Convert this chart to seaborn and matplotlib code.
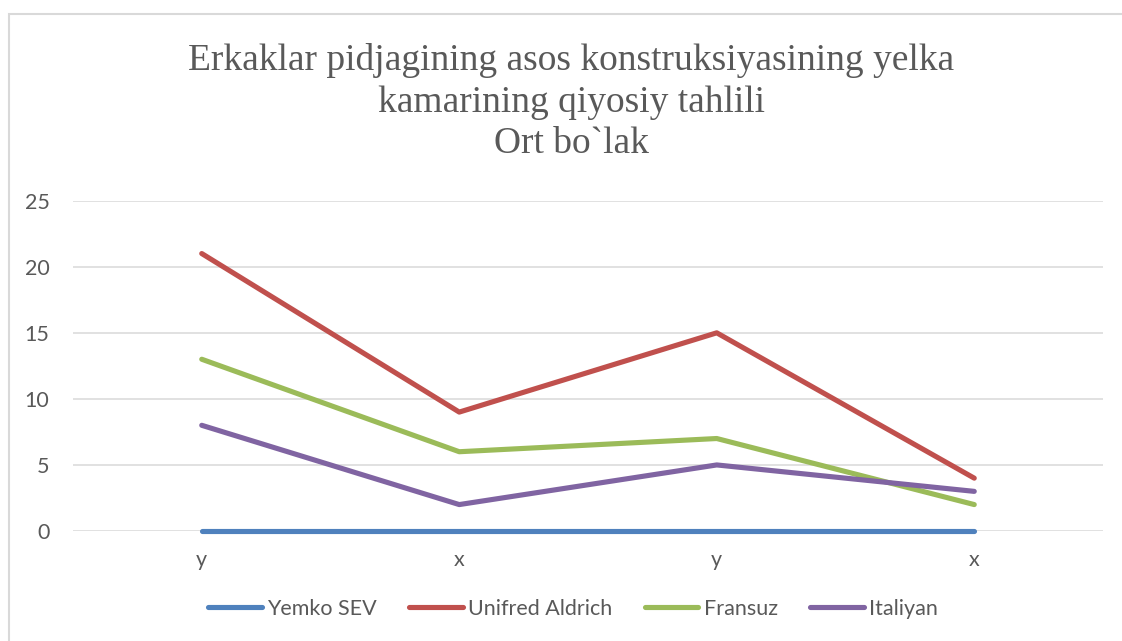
import pandas as pd
import seaborn as sns
from matplotlib import pyplot as plt
from matplotlib.patches import Rectangle

# chart data
categories = ["y", "x", "y", "x"]
series_names = ["Yemko SEV", "Unifred Aldrich", "Fransuz", "Italiyan"]
yemko_sev = [0, 0, 0, 0]
unifred_aldrich = [21, 9, 15, 4]
fransuz = [13, 6, 7, 2]
italiyan = [8, 2, 5, 3]
y_ticks = [0, 5, 10, 15, 20, 25]

colors = {"Yemko SEV": "#4F81BD", "Unifred Aldrich": "#C0504D",
          "Fransuz": "#9BBB59", "Italiyan": "#8064A2"}

# long form table for seaborn, x is the category position (labels repeat)
rows = []
for name, vals in zip(series_names, [yemko_sev, unifred_aldrich, fransuz, italiyan]):
    for i, v in enumerate(vals):
        rows.append({"pos": i, "value": v, "series": name})
df = pd.DataFrame(rows)

sns.set_style("white")
plt.rcParams['font.family'] = ['Lato', 'DejaVu Sans']
text_color = "#595959"
grid_color = "#D9D9D9"

fig = plt.figure(figsize=(11.22, 6.41), dpi=100)
ax = fig.add_axes([73 / 1122, 1 - 531 / 641, 1030 / 1122, 330.3 / 641])

sns.lineplot(data=df, x="pos", y="value", hue="series", hue_order=series_names,
             palette=colors, linewidth=3.7, solid_capstyle="round", ax=ax, legend=False)
# keep the zero line fully visible
for ln in ax.lines:
    ln.set_clip_on(False)

ax.set_xlim(-0.5, len(categories) - 0.5)
ax.set_ylim(0, 25)
ax.set_xticks(range(len(categories)))
ax.set_xticklabels(categories)
ax.set_yticks(y_ticks)
ax.set_xlabel("")
ax.set_ylabel("")
ax.tick_params(axis="both", length=0, labelsize=15.5, labelcolor=text_color)
ax.tick_params(axis="y", pad=17)
ax.tick_params(axis="x", pad=14)
ax.grid(axis="y", color=grid_color, linewidth=1.1)
ax.set_axisbelow(True)
for s in ax.spines.values():
    s.set_visible(False)

# legend along the bottom
handles = [plt.Line2D([], [], color=colors[n], linewidth=3.7, solid_capstyle="round")
           for n in series_names]
fig.legend(handles, series_names, loc="center", bbox_to_anchor=(573 / 1122, 0.05),
           ncol=4, frameon=False, fontsize=15.5, labelcolor=text_color,
           handlelength=2.5, handletextpad=0.25, columnspacing=1.5)

fig.text(571 / 1122, 1 - 102 / 641,
         "Erkaklar pidjagining asos konstruksiyasining yelka\nkamarining qiyosiy tahlili\nOrt bo`lak",
         ha="center", va="center", fontsize=27, color=text_color,
         family=["Liberation Serif", "DejaVu Serif"], linespacing=1.27)

# chart outer frame
fig.patches.append(Rectangle((9 / 1122, -0.1), 1.2, 1.1 - 14 / 641, transform=fig.transFigure,
                             fill=False, edgecolor=grid_color, linewidth=1.5))

fig.savefig("out.png", dpi=100)
